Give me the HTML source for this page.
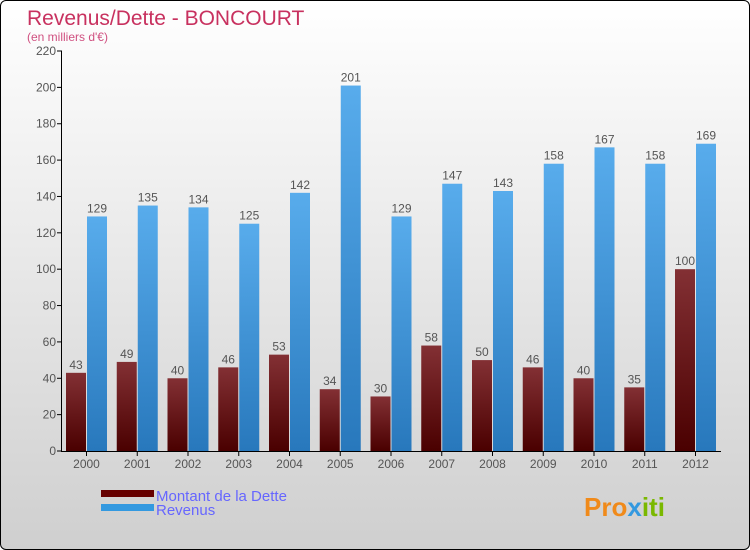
<!DOCTYPE html>
<html><head><meta charset="utf-8"><style>
body{margin:0}
#c{width:748px;height:548px;border:1px solid #000;border-radius:6px;overflow:hidden;background:linear-gradient(#ffffff,#cfcfcf);position:relative;font-family:"Liberation Sans",sans-serif}
</style></head><body>
<div id="c">
<svg id="s" width="748" height="548" style="position:absolute;left:0;top:0">
<defs>
<linearGradient id="gd" x1="0" y1="0" x2="0" y2="1"><stop offset="0" stop-color="#833034"/><stop offset="1" stop-color="#4a0000"/></linearGradient>
<linearGradient id="gr" x1="0" y1="0" x2="0" y2="1"><stop offset="0" stop-color="#58acec"/><stop offset="1" stop-color="#2878bc"/></linearGradient>
</defs>
<text x="26" y="24" font-size="21" fill="#c8315f">Revenus/Dette - BONCOURT</text>
<text x="26" y="40" font-size="12" fill="#d05080">(en milliers d'€)</text>
<g id="g"></g>
<rect x="100" y="489" width="53" height="7" fill="#660000"/>
<rect x="100" y="503" width="53" height="7" fill="#3399e0"/>
<text x="155" y="500" font-size="15" fill="#6666ff">Montant de la Dette</text>
<text x="155" y="514" font-size="15" fill="#6666ff">Revenus</text>
<text x="583" y="515" font-size="26" font-weight="bold" fill="#f08a1a">Pro<tspan fill="#3399e0">x</tspan><tspan fill="#7ab800">iti</tspan></text>
</svg>
</div>
<script>
const years=["2000","2001","2002","2003","2004","2005","2006","2007","2008","2009","2010","2011","2012"];
const dette=[43,49,40,46,53,34,30,58,50,46,40,35,100];
const revenus=[129,135,134,125,142,201,129,147,143,158,167,158,169];
const ticks=[0,20,40,60,80,100,120,140,160,180,200,220];
const NS="http://www.w3.org/2000/svg";
const g=document.getElementById('g');
const y0=450,yTop=50,maxV=220;
const y=v=>y0-(v/maxV)*(y0-yTop);
const x=i=>85.5+i*50.75;
function mk(t,a){const e=document.createElementNS(NS,t);for(const k in a)e.setAttribute(k,a[k]);g.appendChild(e);return e;}
ticks.forEach(t=>{
 const l=mk('line',{x1:56,x2:61,y1:y(t),y2:y(t),stroke:'#000'});
 
 
 const tx=mk('text',{x:55,y:y(t)+4,'font-size':12,fill:'#555','text-anchor':'end'});
 tx.textContent=t;
 
 
});
years.forEach((yr,i)=>{
 const cx=x(i);
 const a=mk('rect',{x:cx-20.5,y:y(dette[i]),width:20,height:y0-y(dette[i]),fill:'url(#gd)'});
 
 
 const b=mk('rect',{x:cx+0.5,y:y(revenus[i]),width:20,height:y0-y(revenus[i]),fill:'url(#gr)'});
 
 
 const la=mk('text',{x:cx-10.5,y:y(dette[i])-4,'font-size':12,fill:'#555','text-anchor':'middle'});
 la.textContent=dette[i];
 
 
 const lb=mk('text',{x:cx+10.5,y:y(revenus[i])-4,'font-size':12,fill:'#555','text-anchor':'middle'});
 lb.textContent=revenus[i];
 
 
 const tk=mk('line',{x1:cx,x2:cx,y1:450,y2:455,stroke:'#000'});
 
 
 const xl=mk('text',{x:cx,y:467,'font-size':12,fill:'#555','text-anchor':'middle'});
 xl.textContent=yr;
 
 
});
const ax=mk('line',{x1:60.5,x2:60.5,y1:50,y2:450.5,stroke:'#000'});


const bx=mk('line',{x1:60,x2:720,y1:450.5,y2:450.5,stroke:'#000'});


</script>
</body></html>
